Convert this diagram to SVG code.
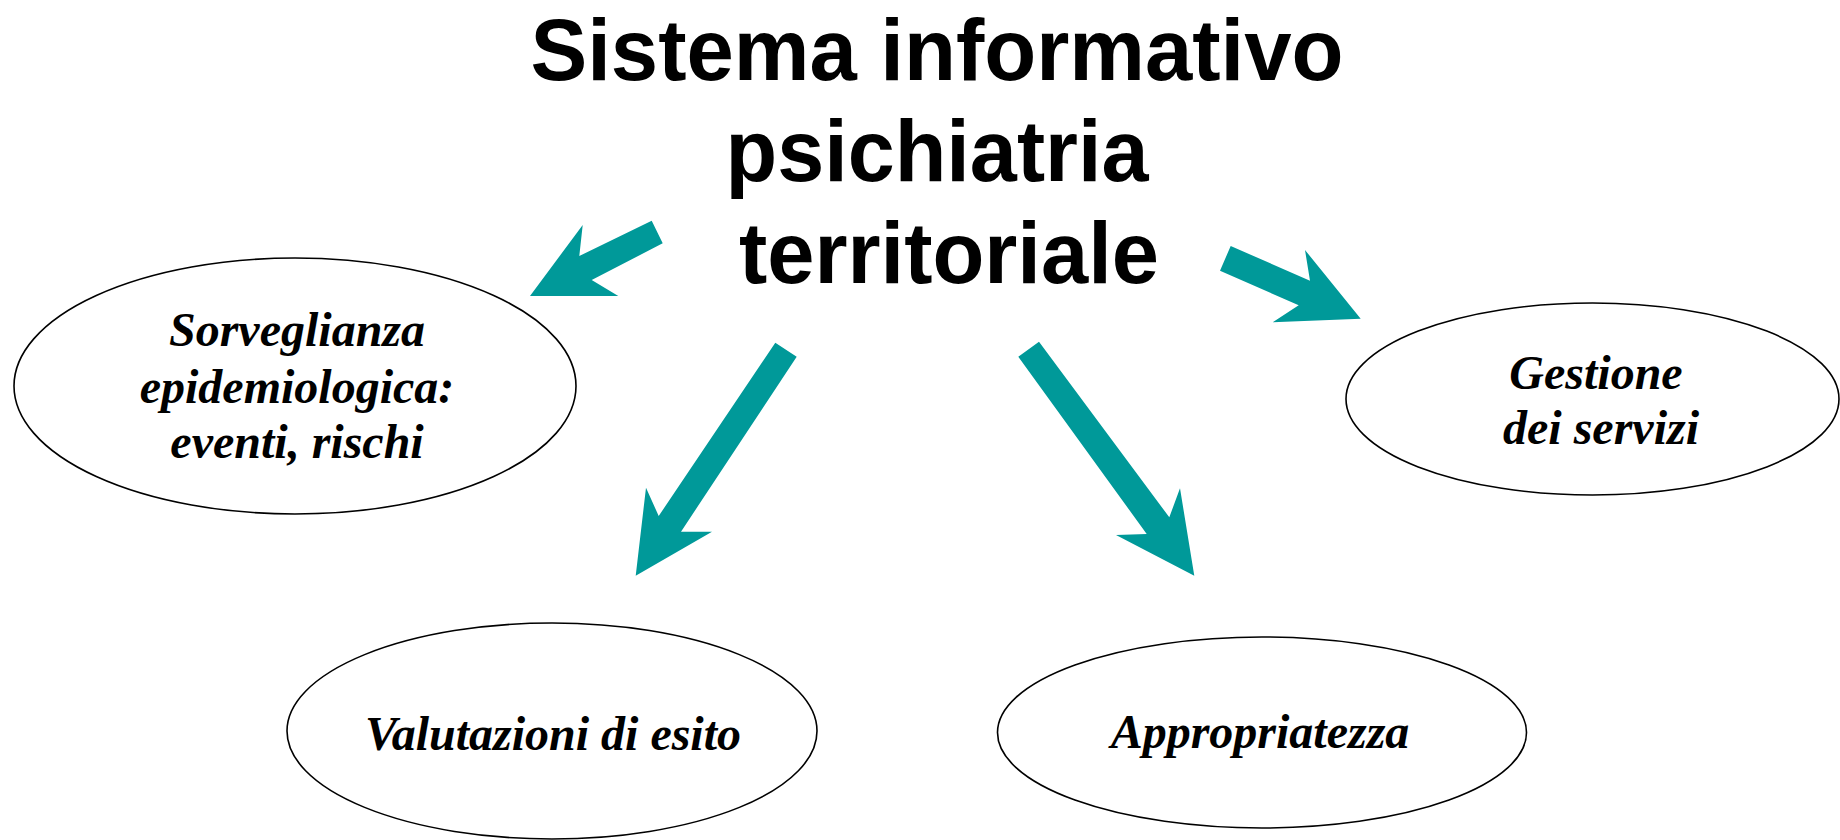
<svg xmlns="http://www.w3.org/2000/svg" width="1840" height="840" viewBox="0 0 1840 840">
  <style>
    .title { font-family: "Liberation Sans", Arial, sans-serif; font-weight: bold; font-size: 88px; fill: #000; text-anchor: middle; }
    .node ellipse { fill: #fff; stroke: #000; stroke-width: 1.6; }
    .label { font-family: "Liberation Serif", "Times New Roman", serif; font-weight: bold; font-style: italic; font-size: 48px; fill: #000; text-anchor: middle; }
    .arrow { fill: #009999; stroke: none; }
  </style>
  <rect width="1840" height="840" fill="#fff"/>

  <g id="title">
    <text class="title" x="937" y="80" textLength="813" lengthAdjust="spacingAndGlyphs">Sistema informativo</text>
    <text class="title" x="937" y="181" textLength="423" lengthAdjust="spacingAndGlyphs">psichiatria</text>
    <text class="title" x="949" y="283" textLength="420" lengthAdjust="spacingAndGlyphs">territoriale</text>
  </g>

  <g id="node-sorveglianza" class="node">
    <ellipse cx="295" cy="386" rx="281" ry="128"/>
    <text class="label" x="297" y="346">Sorveglianza</text>
    <text class="label" x="297" y="403">epidemiologica:</text>
    <text class="label" x="297" y="458">eventi, rischi</text>
  </g>

  <g id="node-gestione" class="node">
    <ellipse cx="1592.5" cy="399" rx="246.5" ry="96"/>
    <text class="label" x="1596" y="389">Gestione</text>
    <text class="label" x="1601" y="444">dei servizi</text>
  </g>

  <g id="node-valutazioni" class="node">
    <ellipse cx="552" cy="731" rx="265" ry="108"/>
    <text class="label" x="553" y="750">Valutazioni di esito</text>
  </g>

  <g id="node-appropriatezza" class="node">
    <ellipse cx="1262" cy="732.5" rx="264.5" ry="95.5"/>
    <text class="label" x="1260" y="748">Appropriatezza</text>
  </g>

  <g id="connectors">
    <polygon class="arrow" points="651.7,220.7 662.7,243.3 591.7,280 618.3,296 530,296 582.7,225 579.3,256"/>
    <polygon class="arrow" points="1230.7,246 1310,280.7 1305,250 1360.7,318.7 1272.7,322.3 1298.7,305.3 1220,270.7"/>
    <polygon class="arrow" points="775.3,342.7 796.7,356.7 681,531.7 712,531.7 635.7,575.7 646,487.7 658.7,516"/>
    <polygon class="arrow" points="1039,341.7 1169.3,517.3 1180,488.3 1194.3,575.7 1116,535 1146.7,534 1018.3,356.7"/>
  </g>
</svg>
